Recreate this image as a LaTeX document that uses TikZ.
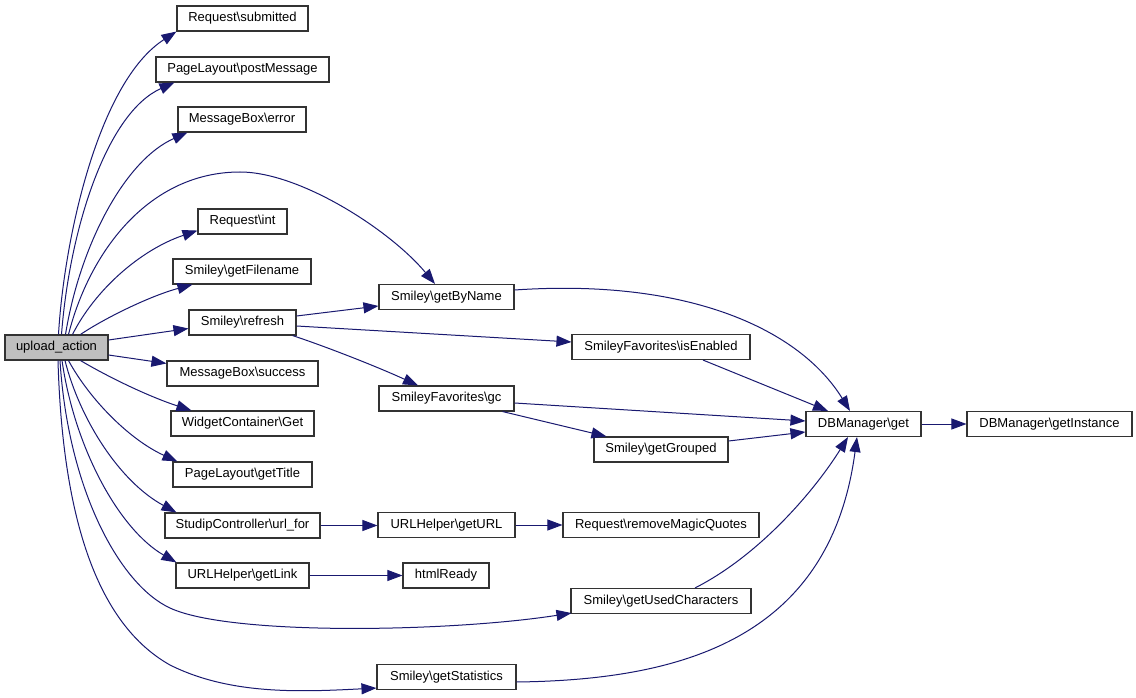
\documentclass[tikz,border=0pt]{standalone}
\usepackage{fontspec}
\setmainfont{Liberation Sans}
\usetikzlibrary{arrows.meta}
\definecolor{edgeblue}{HTML}{191970}
\definecolor{nodeline}{HTML}{333333}
\definecolor{rootfill}{HTML}{BFBFBF}
\begin{document}
\begin{tikzpicture}[x=1pt,y=-1pt,
  fn/.style={draw=nodeline,fill=white,line width=1.1pt,minimum height=25pt,inner sep=0pt,
    font=\fontsize{13}{15}\selectfont},
  root/.style={fn,fill=rootfill},
  call/.style={draw=edgeblue,line width=1pt,-{Triangle[length=15pt,width=11pt]}}]
\useasboundingbox (0,0) rectangle (1136,698);
\fill[white] (0,0) rectangle (1136,698);
% nodes
\node[root,minimum width=103pt] (A) at (56.5,347.5) {upload\_action};
\node[fn,minimum width=131pt] (sub) at (242.5,18.5) {Request\textbackslash submitted};
\node[fn,minimum width=173pt] (pm) at (242.5,69.5) {PageLayout\textbackslash postMessage};
\node[fn,minimum width=128pt] (err) at (242,119.5) {MessageBox\textbackslash error};
\node[fn,minimum width=89pt] (int) at (242.5,221.5) {Request\textbackslash int};
\node[fn,minimum width=138pt] (fnm) at (242,271.5) {Smiley\textbackslash getFilename};
\node[fn,minimum width=107pt] (ref) at (242.5,322.5) {Smiley\textbackslash refresh};
\node[fn,minimum width=151pt] (suc) at (242.5,373.5) {MessageBox\textbackslash success};
\node[fn,minimum width=143pt] (wg) at (242.5,423.5) {WidgetContainer\textbackslash Get};
\node[fn,minimum width=139pt] (tit) at (242.5,474.5) {PageLayout\textbackslash getTitle};
\node[fn,minimum width=155pt] (url) at (242.5,525.5) {StudipController\textbackslash url\_for};
\node[fn,minimum width=133pt] (gl) at (242.5,575.5) {URLHelper\textbackslash getLink};
\node[fn,minimum width=135pt] (gbn) at (446.5,297) {Smiley\textbackslash getByName};
\node[fn,minimum width=178pt] (ise) at (661,347) {SmileyFavorites\textbackslash isEnabled};
\node[fn,minimum width=135pt] (gc) at (446.5,398.5) {SmileyFavorites\textbackslash gc};
\node[fn,minimum width=134pt] (gg) at (661,449.5) {Smiley\textbackslash getGrouped};
\node[fn,minimum width=137pt] (gurl) at (446.5,525) {URLHelper\textbackslash getURL};
\node[fn,minimum width=196pt] (rmq) at (661,525) {Request\textbackslash removeMagicQuotes};
\node[fn,minimum width=86pt] (html) at (446,575.5) {htmlReady};
\node[fn,minimum width=180pt] (guc) at (661,601) {Smiley\textbackslash getUsedCharacters};
\node[fn,minimum width=139pt] (gs) at (446.5,677) {Smiley\textbackslash getStatistics};
\node[fn,minimum width=115pt] (dbg) at (863.5,424) {DBManager\textbackslash get};
\node[fn,minimum width=165pt] (dbi) at (1049.5,424) {DBManager\textbackslash getInstance};
% edges from upload_action
\draw[call] ([xshift=2pt]A.north) .. controls (64,240) and (98,82) .. (sub.south west);
\draw[call] ([xshift=5pt]A.north) .. controls (70,225) and (108,112) .. ([xshift=19pt]pm.south west);
\draw[call] ([xshift=9pt]A.north) .. controls (80,245) and (125,160) .. ([xshift=10pt]err.south west);
\draw[call] ([xshift=12pt]A.north) .. controls (90,250) and (150,172) .. (240,172)
  .. controls (300,172) and (390,230) .. ([xshift=-11.5pt]gbn.north);
\draw[call] ([xshift=16pt]A.north) .. controls (95,290) and (140,250) .. ([yshift=4pt]int.south west);
\draw[call] ([xshift=24pt]A.north) .. controls (105,318) and (150,296) .. ([xshift=20pt]fnm.south west);
\draw[call] ([yshift=7.5pt]A.east) -- ([yshift=-6pt]ref.west);
\draw[call] ([yshift=-7.5pt]A.east) -- ([yshift=-3pt]suc.north west);
\draw[call] ([xshift=24pt]A.south) .. controls (110,378) and (150,397) .. ([xshift=21pt]wg.north west);
\draw[call] ([xshift=12pt]A.south) .. controls (90,400) and (130,440) .. ([xshift=5pt]tit.north west);
\draw[call] ([xshift=8.5pt]A.south) .. controls (80,420) and (120,482) .. ([xshift=12pt]url.north west);
\draw[call] ([xshift=5.5pt]A.south) .. controls (75,450) and (120,530) .. ([xshift=1pt]gl.north west);
\draw[call] ([xshift=3.5pt]A.south) .. controls (68,490) and (120,585) .. (170,608)
  .. controls (230,636) and (450,632) .. ([xshift=1pt,yshift=1pt]guc.south west);
\draw[call] ([xshift=1.5pt]A.south) .. controls (62,500) and (90,620) .. (170,665)
  .. controls (230,695) and (300,692) .. ([yshift=2pt]gs.south west);
% second level
\draw[call] ([yshift=6.5pt]ref.east) -- ([yshift=-9pt]gbn.west);
\draw[call] ([yshift=-3.5pt]ref.east) -- ([yshift=5pt]ise.west);
\draw[call] ([xshift=-4pt]ref.south east) .. controls (330,348) and (380,368) .. ([xshift=-28.5pt]gc.north);
\draw[call] (url.east) -- (url.east -| gurl.west);
\draw[call] (gurl) -- (rmq);
\draw[call] (gl) -- (html);
% to DBManager\get
\draw[call] ([yshift=7pt]gbn.east) .. controls (690,278) and (800,330) .. ([xshift=-13.5pt]dbg.north);
\draw[call] ([xshift=42pt]ise.south) -- ([xshift=-35.5pt]dbg.north);
\draw[call] ([yshift=-4.5pt]gc.east) -- ([yshift=3pt]dbg.west);
\draw[call] ([xshift=-12pt]gc.south east) -- ([xshift=13pt]gg.north west);
\draw[call] ([yshift=8.5pt]gg.east) -- ([yshift=-8pt]dbg.west);
\draw[call] ([xshift=34pt]guc.north) .. controls (760,555) and (815,490) .. ([xshift=-15.5pt]dbg.south);
\draw[call] ([yshift=-5pt]gs.east) .. controls (680,680) and (830,640) .. ([xshift=-6.5pt]dbg.south);
\draw[call] (dbg) -- (dbi);
\end{tikzpicture}
\end{document}
